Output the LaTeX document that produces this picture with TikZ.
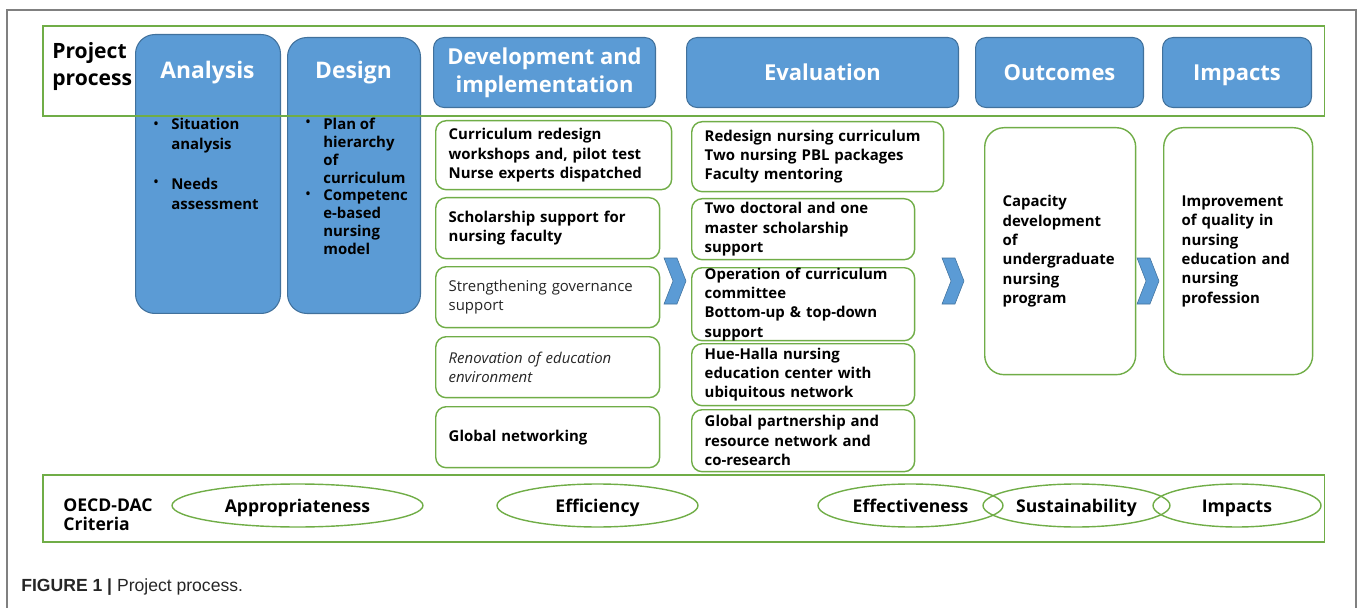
\documentclass[tikz,border=0pt]{standalone}
\usepackage{fontspec}
\setmainfont{Open Sans}
\newfontfamily\capfont{Liberation Sans}
\usepackage{tikz}
\usetikzlibrary{shapes.geometric}

\definecolor{phaseblue}{HTML}{5B9BD5}
\definecolor{phaseedge}{HTML}{41719C}
\definecolor{boxgreen}{HTML}{70AD47}

\begin{document}
\begin{tikzpicture}[
    x=0.02cm, y=-0.02cm,
    phase/.style={draw=phaseedge, fill=phaseblue, line width=0.6pt, rounded corners=6pt, anchor=north west, inner sep=0pt, align=center, text=white, font=\fontsize{12.5}{16}\selectfont\bfseries},
    tall/.style={phase, rounded corners=11pt},
    oneline/.style={text height=1.6ex, text depth=0pt},
    band/.style={draw=boxgreen, line width=0.9pt, anchor=north west, inner sep=0pt, minimum width=25.64cm},
    task/.style={draw=boxgreen, line width=0.8pt, rounded corners=6pt, fill=white, anchor=north west, align=left, inner xsep=0.26cm, inner ysep=0pt, font=\fontsize{8.5}{11}\selectfont\bfseries},
    result/.style={task, rounded corners=11pt, inner xsep=0.36cm, minimum width=3.02cm, minimum height=4.94cm},
    listtext/.style={anchor=west, inner sep=0pt, align=left, font=\fontsize{8.5}{11.4}\selectfont\bfseries},
    dot/.style={inner sep=0pt, font=\fontsize{9}{9}\selectfont},
    label/.style={anchor=west, inner sep=0pt, align=left, font=\bfseries},
    dac/.style={ellipse, draw=boxgreen, line width=0.8pt, inner sep=0pt, minimum height=0.86cm, text height=1.6ex, text depth=0.2ex, font=\fontsize{10}{12}\selectfont\bfseries},
    chev/.style={fill=phaseblue, draw=phaseedge, line width=0.3pt},
    frame/.style={draw=black!50, line width=1.1pt}
]
  \useasboundingbox (0,0) rectangle (1357,608);
  \draw[frame] (7,608) -- (7,10) -- (1356,10) -- (1356,608);

  % phases
  \node[tall, minimum width=2.9cm, minimum height=5.58cm]  (analysis) at (135,34) {};
  \node[tall, minimum width=2.66cm, minimum height=5.52cm] (design)   at (287,37) {};
  \node[text=white, oneline, font=\fontsize{13}{16}\selectfont\bfseries] (analysisT) at (207.5,71) {Analysis};
  \node[text=white, oneline, font=\fontsize{13}{16}\selectfont\bfseries] (designT)   at (353.5,71) {Design};
  \node[phase, minimum width=4.44cm, minimum height=1.4cm] (devhead)  at (433,37)  {Development and\\implementation};
  \node[phase, oneline, minimum width=5.44cm, minimum height=1.4cm] (evalhead) at (686,37)  {Evaluation};
  \node[phase, oneline, minimum width=3.36cm, minimum height=1.4cm] (outhead)  at (975,37)  {Outcomes};
  \node[phase, oneline, minimum width=2.98cm, minimum height=1.4cm] (imphead)  at (1162,37) {Impacts};

  \node[band, minimum height=1.8cm]  (processband) at (42,25)  {};
  \node[band, minimum height=1.34cm] (dacband)     at (42,474) {};
  \node[label, font=\fontsize{12}{15.4}\selectfont\bfseries] (project) at (52,66.5) {Project\\process};
  \node[label, font=\fontsize{10}{10.8}\selectfont\bfseries] (oecd) at (63,514.5) {OECD-DAC\\Criteria};

  % analysis and design bullets
  \node[dot] (b1) at (156,126) {\textbullet};
  \node[dot] (b2) at (156,184) {\textbullet};
  \node[listtext] (situation) at (171,136) {Situation\\analysis};
  \node[listtext] (needs)     at (171,194) {Needs\\assessment};
  \node[dot] (b3) at (308,124) {\textbullet};
  \node[dot] (b4) at (308,196) {\textbullet};
  \node[listtext, font=\fontsize{8.5}{10.2}\selectfont\bfseries] (plan)  at (323,151)   {Plan of\\hierarchy\\of\\curriculum};
  \node[listtext, font=\fontsize{8.5}{10.2}\selectfont\bfseries] (model) at (323,222.5) {Competenc\\e-based\\nursing\\model};

  % development and implementation
  \node[task, text width=4.2cm, minimum height=1.38cm]  (dev1) at (435,120) {Curriculum redesign\\workshops and, pilot test\\Nurse experts dispatched};
  \node[task, text width=3.96cm, minimum height=1.22cm] (dev2) at (435,197) {Scholarship support for\\nursing faculty};
  \node[task, text width=3.96cm, minimum height=1.22cm, font=\fontsize{8.5}{11}\selectfont, text=black!85] (dev3) at (435,266) {Strengthening governance\\support};
  \node[task, text width=3.96cm, minimum height=1.22cm, font=\fontsize{8.5}{11}\selectfont\itshape, text=black!85] (dev4) at (435,336) {Renovation of education\\environment};
  \node[task, text width=3.96cm, minimum height=1.22cm] (dev5) at (435,406) {Global networking};

  % evaluation
  \node[task, text width=4.52cm, minimum height=1.4cm]  (eva1) at (691,121) {Redesign nursing curriculum\\Two nursing PBL packages\\Faculty mentoring};
  \node[task, text width=3.94cm, minimum height=1.22cm] (eva2) at (691,198) {Two doctoral and one\\master scholarship\\support};
  \node[task, text width=3.94cm, minimum height=1.44cm] (eva3) at (691,267) {Operation of curriculum\\committee\\Bottom-up \& top-down\\support};
  \node[task, text width=3.94cm, minimum height=1.24cm] (eva4) at (691,343) {Hue-Halla nursing\\education center with\\ubiquitous network};
  \node[task, text width=3.94cm, minimum height=1.24cm] (eva5) at (691,409) {Global partnership and\\resource network and\\co-research};

  % outcomes and impacts
  \node[result, text width=2.3cm]  (capacity) at (984,127)  {Capacity\\development\\of\\undergraduate\\nursing\\program};
  \node[result, minimum width=2.98cm, text width=2.26cm] (quality) at (1163,127) {Improvement\\of quality in\\nursing\\education and\\nursing\\profession};

  \foreach \cx in {664,942,1137}
    \draw[chev] (\cx,258) -- ++(13,0) -- ++(9,23) -- ++(-9,23) -- ++(-13,0) -- ++(9,-23) -- cycle;

  % criteria
  \node[dac, minimum width=5.02cm] (approp) at (297.5,505.5)  {Appropriateness};
  \node[dac, minimum width=4.02cm] (effic)  at (597.5,505.5)  {Efficiency};
  \node[dac, minimum width=3.7cm]  (effect) at (910.5,505.5)  {Effectiveness};
  \node[dac, minimum width=3.74cm] (sustain) at (1076.5,505.5) {Sustainability};
  \node[dac, minimum width=3.36cm] (impact) at (1237,505.5)   {Impacts};

  \node[anchor=west, inner sep=0pt, text=black!85] (caption) at (21,587) {\capfont\fontsize{10}{12}\selectfont\textbf{FIGURE 1 |} Project process.};
\end{tikzpicture}
\end{document}
